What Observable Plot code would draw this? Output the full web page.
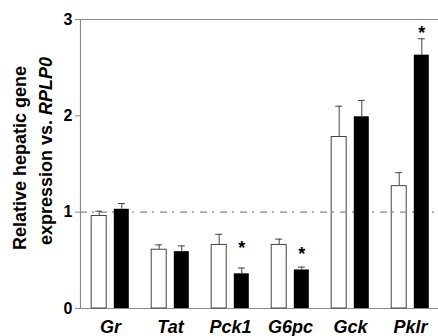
<!DOCTYPE html>
<html>
<head>
<meta charset="utf-8">
<script src="https://cdn.jsdelivr.net/npm/d3@7"></script>
<script src="https://cdn.jsdelivr.net/npm/@observablehq/plot@0.6"></script>
<style>
  body { margin: 0; background: #fff; }
  svg { display: block; }
</style>
</head>
<body>
<div id="chart"></div>
<script>
// Hepatic gene expression relative to RPLP0 (mean and upper SEM) for two groups.
const genes = ["Gr", "Tat", "Pck1", "G6pc", "Gck", "Pklr"];
const controlMean  = [0.96, 0.61, 0.66, 0.66, 1.78, 1.27];
const controlUpper = [1.01, 0.66, 0.77, 0.72, 2.10, 1.41];
const treatedMean  = [1.03, 0.59, 0.36, 0.40, 1.99, 2.63];
const treatedUpper = [1.09, 0.65, 0.42, 0.43, 2.16, 2.80];
// Significance markers on the treated bars
const starGenes = ["Pck1", "G6pc", "Pklr"];
const starLevel = [0.67, 0.60, 2.90];
const yTicks = [0, 1, 2, 3];

const control = genes.map((g, i) => ({gene: g, mean: controlMean[i], upper: controlUpper[i]}));
const treated = genes.map((g, i) => ({gene: g, mean: treatedMean[i], upper: treatedUpper[i]}));
const stars = starGenes.map((g, i) => ({gene: g, y: starLevel[i]}));

const axisGray = "#8a8a8a";
const errGray = "#444";
const font = "'Liberation Sans', Arial, Helvetica, sans-serif";
const off = 11.3;   // half distance between the paired bars

const plot = Plot.plot({
  width: 438,
  height: 336,
  marginLeft: 80,
  marginRight: 0,
  marginTop: 19,
  marginBottom: 28,
  style: {fontFamily: font, background: "#fff", overflow: "visible"},
  x: {domain: genes, range: [80, 440], padding: 0},
  y: {domain: [0, 3]},
  marks: [
    Plot.ruleY([0, 3], {stroke: axisGray, strokeWidth: 1.2}),
    Plot.frame({anchor: "left", stroke: axisGray, strokeWidth: 1.2}),
    Plot.axisY({ticks: yTicks, tickFormat: d3.format("d"), tickSize: 5, tickPadding: 3, label: null,
      stroke: axisGray, fill: "#000", fontSize: 16, fontWeight: "bold"}),
    Plot.axisX({tickSize: 0, tickPadding: 12, label: null,
      fill: "#000", fontSize: 18, fontWeight: "bold", fontStyle: "italic"}),
    // control bars (open)
    Plot.barY(control, {x: "gene", y: "mean", fill: "#fff", stroke: errGray, strokeWidth: 1,
      insetLeft: 11.2, insetRight: 33.8}),
    // reference level
    Plot.ruleY([1], {stroke: "#888", strokeWidth: 1.2, strokeDasharray: "7,5,2,6"}),
    // treated bars (solid)
    Plot.barY(treated, {x: "gene", y: "mean", fill: "#000", insetLeft: 33.8, insetRight: 11.2}),
    // error bars
    Plot.ruleX(control, {x: "gene", y1: "mean", y2: "upper", dx: -off, stroke: errGray}),
    Plot.tickY(control, {x: "gene", y: "upper", dx: -off, stroke: errGray, insetLeft: 26.5, insetRight: 26.5}),
    Plot.ruleX(treated, {x: "gene", y1: "mean", y2: "upper", dx: off, stroke: errGray}),
    Plot.tickY(treated, {x: "gene", y: "upper", dx: off, stroke: errGray, insetLeft: 26.5, insetRight: 26.5}),
    Plot.text(stars, {x: "gene", y: "y", text: () => "*", dx: off, dy: 4,
      fontSize: 18, fontWeight: "bold", fill: "#000"})
  ]
});

// Two-line y-axis title with italic gene symbol
const svg = d3.select(plot);
const title = svg.append("g")
  .attr("font-family", font)
  .attr("font-size", 18)
  .attr("font-weight", "bold")
  .attr("fill", "#000")
  .attr("text-anchor", "middle");
title.append("text")
  .attr("transform", "translate(25.5,158) rotate(-90)")
  .text("Relative hepatic gene");
const line2 = title.append("text")
  .attr("transform", "translate(52,151) rotate(-90)");
line2.append("tspan").text("expression vs.\u00a0");
line2.append("tspan").attr("font-style", "italic").text("RPLP0");

document.getElementById("chart").append(plot);
</script>
</body>
</html>
